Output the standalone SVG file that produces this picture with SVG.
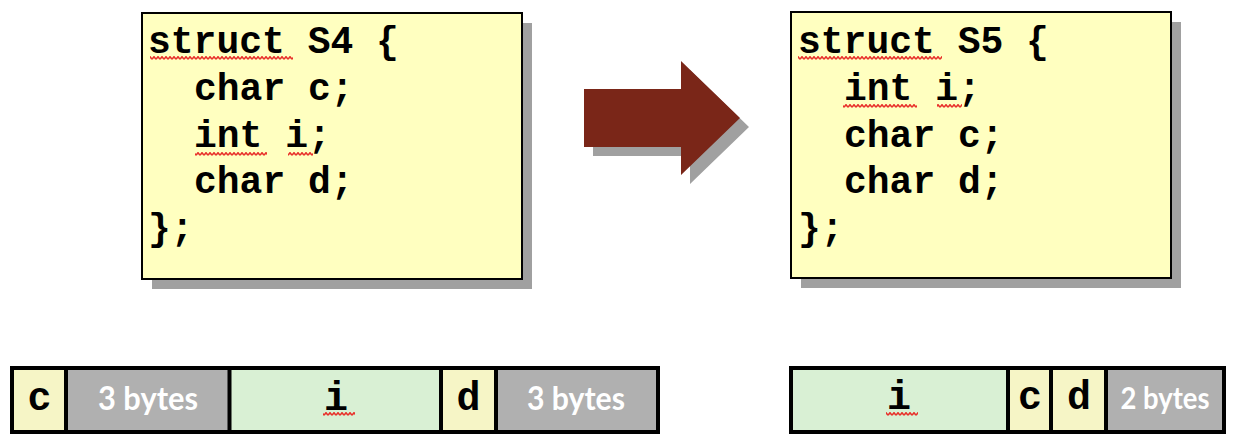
<svg xmlns="http://www.w3.org/2000/svg" width="1236" height="444" viewBox="0 0 1236 444">
<defs>
<style>
.box{fill:#FFFFC0;stroke:#000;stroke-width:2}
.shadow{fill:#A0A0A0}
.code{font-family:"Liberation Mono","Courier New",monospace;font-weight:bold;font-size:38px;fill:#000}
.cell{stroke:none}
.yel{fill:#F6F5C6}
.grn{fill:#D9F0D4}
.gry{fill:#B0B0B0}
.frame{fill:none;stroke:#000;stroke-width:4}
.div{stroke:#000;stroke-width:4}
.bytes{font-family:Lato,"Open Sans","Liberation Sans",sans-serif;font-weight:bold;fill:#fff;text-anchor:middle}
.ctext{font-family:"Liberation Mono","Courier New",monospace;font-weight:bold;font-size:40px;fill:#000;text-anchor:middle}
.sq{fill:url(#squiggle)}
</style>
<pattern id="squiggle" patternUnits="userSpaceOnUse" x="0" y="0" width="4" height="4">
<path d="M0,3.3 L2,0.7 L4,3.3" fill="none" stroke="#E8302A" stroke-width="1.5"/>
</pattern>
</defs>
<rect width="1236" height="444" fill="#fff"/>

<g id="struct-s4">
<rect class="shadow" x="152" y="23" width="380" height="266"/>
<rect class="box" x="142" y="13" width="380" height="266"/>
<text class="code" x="148" y="53">struct S4 {</text>
<text class="code" x="194" y="100">char c;</text>
<text class="code" x="194" y="147">int i;</text>
<text class="code" x="194" y="193">char d;</text>
<text class="code" x="148" y="240">};</text>
<rect class="sq" x="150" y="56" width="143" height="4"/>
<rect class="sq" x="195" y="152" width="72" height="4"/>
<rect class="sq" x="288" y="152" width="25" height="4"/>
</g>

<g id="struct-s5">
<rect class="shadow" x="801" y="22" width="380" height="266"/>
<rect class="box" x="791" y="12" width="380" height="266"/>
<text class="code" x="798" y="53">struct S5 {</text>
<text class="code" x="844" y="100">int i;</text>
<text class="code" x="844" y="147">char c;</text>
<text class="code" x="844" y="193">char d;</text>
<text class="code" x="798" y="240">};</text>
<rect class="sq" x="798" y="56" width="144" height="4"/>
<rect class="sq" x="843" y="104" width="74" height="4"/>
<rect class="sq" x="937" y="104" width="25" height="4"/>
</g>

<g id="connectors">
<polygon class="shadow" points="593,98 690,98 690,70 749,127 690,184 690,156 593,156"/>
<polygon fill="#7A2618" points="584,89 681,89 681,61 740,118 681,175 681,147 584,147"/>
</g>

<g id="layout-s4">
<rect class="cell yel" x="12" y="368" width="54" height="64"/>
<rect class="cell gry" x="66" y="368" width="163.5" height="64"/>
<rect class="cell grn" x="229.5" y="368" width="211.5" height="64"/>
<rect class="cell yel" x="441" y="368" width="55" height="64"/>
<rect class="cell gry" x="496" y="368" width="162" height="64"/>
<line class="div" x1="66" y1="368" x2="66" y2="432"/>
<line class="div" x1="229.5" y1="368" x2="229.5" y2="432"/>
<line class="div" x1="441" y1="368" x2="441" y2="432"/>
<line class="div" x1="496" y1="368" x2="496" y2="432"/>
<rect class="frame" x="12" y="368" width="646" height="64"/>
<text class="ctext" x="39.5" y="410">c</text>
<text class="bytes" x="148" y="410" font-size="33" textLength="100" lengthAdjust="spacingAndGlyphs">3 bytes</text>
<text class="ctext" x="336" y="410">i</text>
<rect class="sq" x="323" y="412" width="32" height="4"/>
<text class="ctext" x="468.5" y="410">d</text>
<text class="bytes" x="576" y="410" font-size="33" textLength="98" lengthAdjust="spacingAndGlyphs">3 bytes</text>
</g>

<g id="layout-s5">
<rect class="cell grn" x="791" y="368" width="217" height="64"/>
<rect class="cell yel" x="1008" y="368" width="43" height="64"/>
<rect class="cell yel" x="1051" y="368" width="55" height="64"/>
<rect class="cell gry" x="1106" y="368" width="118" height="64"/>
<line class="div" x1="1008" y1="368" x2="1008" y2="432"/>
<line class="div" x1="1051" y1="368" x2="1051" y2="432"/>
<line class="div" x1="1106" y1="368" x2="1106" y2="432"/>
<rect class="frame" x="791" y="368" width="433" height="64"/>
<text class="ctext" x="899" y="409">i</text>
<rect class="sq" x="886" y="412" width="32" height="4"/>
<text class="ctext" x="1030" y="409">c</text>
<text class="ctext" x="1079" y="409">d</text>
<text class="bytes" x="1165" y="409" font-size="30" textLength="89" lengthAdjust="spacingAndGlyphs">2 bytes</text>
</g>
</svg>
